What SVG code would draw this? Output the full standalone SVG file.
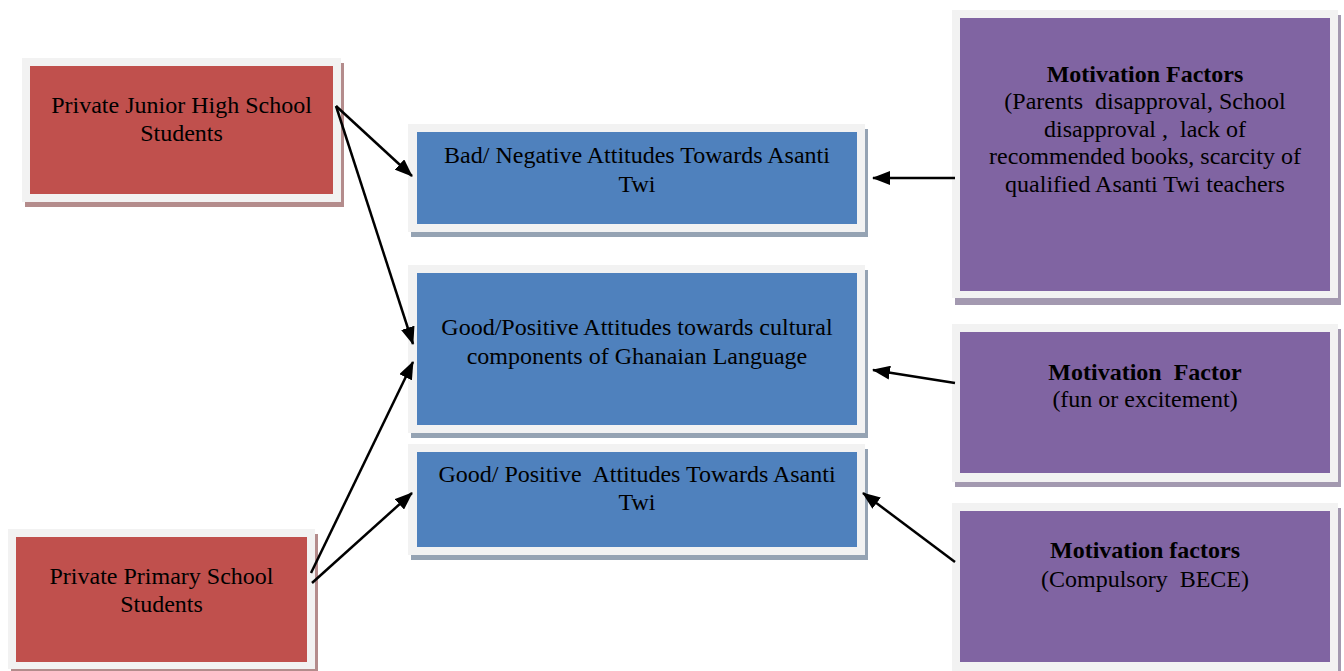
<svg xmlns="http://www.w3.org/2000/svg" width="1344" height="671" viewBox="0 0 1344 671">
<style>
.frame{fill:#f2f2f2}
.sr{fill:#b48c8c}
.sb{fill:#95a3b3}
.sp{fill:#a399b0}
.red{fill:#c0504d}
.blue{fill:#4f81bd}
.purple{fill:#8064a2}
text{font-family:"Liberation Serif","Times New Roman",serif;font-size:24px;fill:#000;text-anchor:middle;white-space:pre}
.b{font-weight:bold}
.conn line{stroke:#000;stroke-width:2.5;marker-end:url(#ah)}
</style>
<defs>
<marker id="ah" viewBox="0 0 18 14" refX="17" refY="7" markerWidth="18" markerHeight="14" markerUnits="userSpaceOnUse" orient="auto">
<path d="M0,0 L18,7 L0,14 z" fill="#000"/>
</marker>
</defs>
<rect width="1344" height="671" fill="#fff"/>

<g id="jhs">
<rect class="sr" x="25" y="63" width="319" height="144"/>
<rect class="frame" x="22" y="58" width="319" height="144"/>
<rect class="red" x="30" y="66" width="303" height="128"/>
<text x="181.5" y="113">Private Junior High School</text>
<text x="181.5" y="141">Students</text>
</g>

<g id="primary">
<rect class="sr" x="11" y="534" width="307" height="140"/>
<rect class="frame" x="8" y="529" width="307" height="140"/>
<rect class="red" x="16" y="537" width="291" height="125"/>
<text x="161.5" y="584">Private Primary School</text>
<text x="161.5" y="612">Students</text>
</g>

<g id="bad">
<rect class="sb" x="411" y="129" width="457" height="108"/>
<rect class="frame" x="408" y="124" width="457" height="108"/>
<rect class="blue" x="417" y="132" width="440" height="92"/>
<text x="637" y="163">Bad/ Negative Attitudes Towards Asanti</text>
<text x="637" y="192">Twi</text>
</g>

<g id="cultural">
<rect class="sb" x="411" y="270" width="457" height="168"/>
<rect class="frame" x="408" y="265" width="457" height="168"/>
<rect class="blue" x="417" y="273" width="440" height="152"/>
<text x="637" y="335">Good/Positive Attitudes towards cultural</text>
<text x="637" y="364">components of Ghanaian Language</text>
</g>

<g id="good">
<rect class="sb" x="411" y="449" width="457" height="111"/>
<rect class="frame" x="408" y="444" width="457" height="111"/>
<rect class="blue" x="417" y="452" width="440" height="95"/>
<text x="637" y="482">Good/ Positive  Attitudes Towards Asanti</text>
<text x="637" y="510">Twi</text>
</g>

<g id="mf1">
<rect class="sp" x="955" y="15" width="386" height="290"/>
<rect class="frame" x="952" y="10" width="386" height="288"/>
<rect class="purple" x="960" y="18" width="370" height="273"/>
<text class="b" x="1145" y="82">Motivation Factors</text>
<text x="1145" y="109">(Parents  disapproval, School</text>
<text x="1145" y="137">disapproval ,  lack of</text>
<text x="1145" y="164">recommended books, scarcity of</text>
<text x="1145" y="192">qualified Asanti Twi teachers</text>
</g>

<g id="mf2">
<rect class="sp" x="955" y="329" width="386" height="158"/>
<rect class="frame" x="952" y="324" width="386" height="158"/>
<rect class="purple" x="960" y="332" width="370" height="141"/>
<text class="b" x="1145" y="380">Motivation  Factor</text>
<text x="1145" y="407">(fun or excitement)</text>
</g>

<g id="mf3">
<rect class="sp" x="955" y="508" width="386" height="170"/>
<rect class="frame" x="952" y="503" width="386" height="170"/>
<rect class="purple" x="960" y="511" width="370" height="151"/>
<text class="b" x="1145" y="558">Motivation factors</text>
<text x="1145" y="587">(Compulsory  BECE)</text>
</g>

<g id="connectors" class="conn">
<line x1="336" y1="106" x2="412" y2="176"/>
<line x1="336" y1="106" x2="413" y2="344"/>
<line x1="311" y1="573" x2="413" y2="362"/>
<line x1="312" y1="583" x2="412" y2="493"/>
<line x1="955" y1="178" x2="873" y2="178"/>
<line x1="955" y1="383" x2="873" y2="370"/>
<line x1="955" y1="562" x2="863" y2="493"/>
</g>
</svg>
